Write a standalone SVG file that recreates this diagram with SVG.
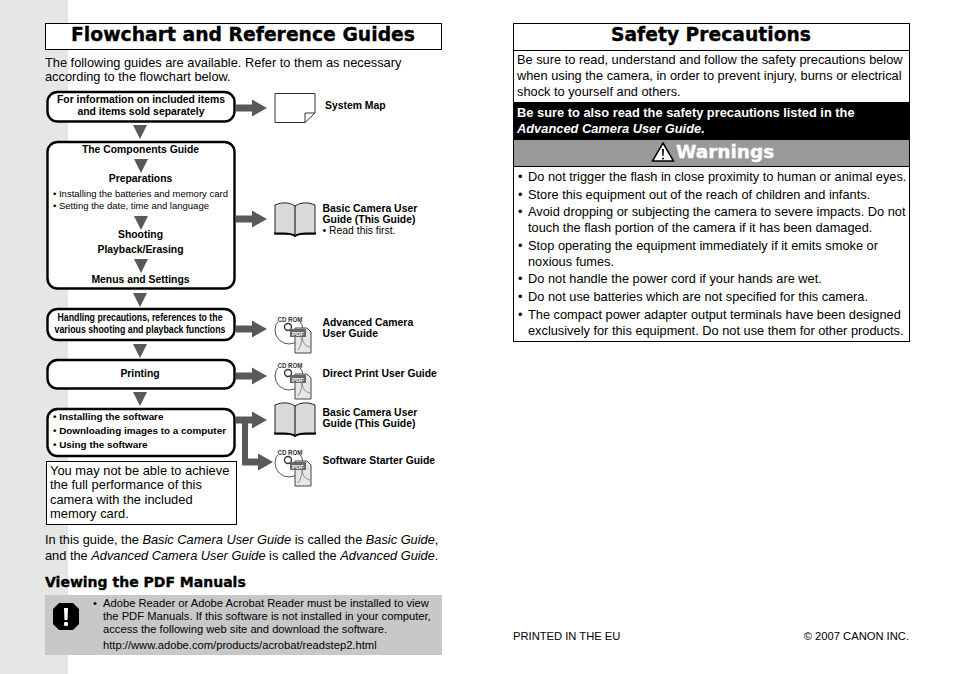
<svg xmlns="http://www.w3.org/2000/svg" width="954" height="674" viewBox="0 0 954 674">
<style>
text{font-family:"Liberation Sans",Arial,sans-serif;fill:#000}
.title{font-family:"DejaVu Sans",sans-serif;font-weight:700;font-size:20px;stroke:#000;stroke-width:.35}
.b{font-size:12.800px}
.f{font-weight:700;font-size:10.400px}
.g{font-size:9.500px}
.ctr{text-anchor:middle}
.box{fill:#fff;stroke:#000;stroke-width:2.4}
.frame{fill:#fff;stroke:#000;stroke-width:1}
.fl{fill:#595959}
.w{font-size:12.800px}
.sw{font-weight:700;font-size:9.900px}
.n{font-size:11.200px}
</style>
<defs>
<path id="tri" class="fl" d="M-7 0H7L0 14Z"/>
<path id="arr" class="fl" d="M0 -3.500H16V-8.500L31 0L16 8.500V3.500H0Z"/>
<g id="book">
<path d="M1 3C8 0 15 0 21 4C27 0 34 0 41 3V32H29C26 32 23 33 21 34C19 33 16 32 13 32H1Z" fill="#d9d9d9" stroke="#222" stroke-width="1"/>
<path d="M21 4V33" stroke="#000" stroke-width="1"/>
<path d="M0 31.500H10C15 31.500 19 32.500 21 34C23 32.500 27 31.500 32 31.500H42" fill="none" stroke="#000" stroke-width="1.800"/>
</g>
<g id="cd">
<circle cx="14" cy="18" r="14" fill="#fff" stroke="#555" stroke-width="1"/>
<circle cx="13" cy="15" r="3.500" fill="#fff" stroke="#333" stroke-width="1.400"/>
<rect x="2" y="3" width="26" height="7" fill="#fff"/>
<text x="15" y="9.500" class="ctr" style="font-size:7px;fill:#333;font-weight:700" textLength="25" lengthAdjust="spacingAndGlyphs">CD ROM</text>
<path d="M20 16H32L36 20V41H20Z" fill="#e6e6e6" stroke="#444" stroke-width="1"/>
<path d="M23 38C26 34 27 29 27 25C28 31 30 34 35 35" fill="none" stroke="#777" stroke-width="0.800"/>
<rect x="15" y="17" width="16" height="8" fill="#666"/>
<text x="23" y="23.500" class="ctr" style="font-size:6px;font-weight:700;fill:#fff">PDF</text>
</g>
</defs>
<rect id="side-band" x="0" y="0" width="68" height="674" fill="#e6e6e6"/>

<g id="flow-title"><rect class="frame" x="45.500" y="23.500" width="396" height="26"/><text class="title" x="71" y="41" textLength="344" lengthAdjust="spacingAndGlyphs">Flowchart and Reference Guides</text></g>
<g id="intro"><text class="b" x="45" y="67">The following guides are available. Refer to them as necessary</text><text class="b" x="45" y="81">according to the flowchart below.</text></g>

<g id="connectors">
<use href="#tri" x="140" y="125"/>
<use href="#tri" x="140" y="293"/>
<use href="#tri" x="140" y="344"/>
<use href="#tri" x="140" y="392"/>
<use href="#arr" x="236" y="108"/>
<use href="#arr" x="236" y="219"/>
<use href="#arr" x="236" y="329"/>
<use href="#arr" x="236" y="376"/>
<use href="#arr" x="236" y="420"/>
<path class="fl" d="M242 423H248V459H242Z"/>
<use href="#arr" x="236" y="462" transform="translate(6 0)"/>
</g>

<g id="node-info"><rect class="box" x="47.500" y="92" width="187" height="29.500" rx="10"/><text class="f ctr" x="141" y="103">For information on included items</text><text class="f ctr" x="141" y="115">and items sold separately</text></g>
<g id="node-components"><rect class="box" x="47.500" y="142" width="187" height="146.500" rx="10"/>
<text class="f ctr" x="140.500" y="153">The Components Guide</text>
<use href="#tri" x="141" y="159"/>
<text class="f ctr" x="140.500" y="182">Preparations</text>
<text class="g" x="53" y="197">• Installing the batteries and memory card</text>
<text class="g" x="53" y="209">• Setting the date, time and language</text>
<use href="#tri" x="141" y="216"/>
<text class="f ctr" x="140.500" y="238">Shooting</text>
<text class="f ctr" x="140.500" y="253">Playback/Erasing</text>
<use href="#tri" x="141" y="259"/>
<text class="f ctr" x="140.500" y="283">Menus and Settings</text></g>
<g id="node-handling"><rect class="box" x="47.500" y="309" width="187" height="31" rx="10"/><text class="f ctr" x="140" y="321" textLength="165" lengthAdjust="spacingAndGlyphs">Handling precautions, references to the</text><text class="f ctr" x="140" y="333" textLength="171" lengthAdjust="spacingAndGlyphs">various shooting and playback functions</text></g>
<g id="node-printing"><rect class="box" x="47.500" y="360" width="187" height="28.500" rx="10"/><text class="f ctr" x="140" y="377">Printing</text></g>
<g id="node-software"><rect class="box" x="47.500" y="409" width="187" height="47" rx="10"/><text class="sw" x="53" y="420">• Installing the software</text><text class="sw" x="53" y="434">• Downloading images to a computer</text><text class="sw" x="53" y="448">• Using the software</text></g>
<g id="note-card"><rect class="frame" x="46.500" y="461.500" width="190" height="63"/><text class="b" x="50" y="475" style="font-size:12.900px">You may not be able to achieve</text><text class="b" x="50" y="489" style="font-size:12.900px">the full performance of this</text><text class="b" x="50" y="504" style="font-size:12.900px">camera with the included</text><text class="b" x="50" y="518" style="font-size:12.900px">memory card.</text></g>

<g id="system-map"><path d="M305 122.500H275V93.500H315V113L305 122.500V113H315" fill="#fff" stroke="#333" stroke-width="1"/><text class="f" x="325" y="109">System Map</text></g>
<g id="guide-basic-1"><use href="#book" x="274" y="202"/><text class="f" x="322.500" y="212">Basic Camera User</text><text class="f" x="322.500" y="223">Guide (This Guide)</text><text class="f" x="322.500" y="234" style="font-weight:400">• Read this first.</text></g>
<g id="guide-advanced"><use href="#cd" x="275" y="312"/><text class="f" x="322.500" y="326">Advanced Camera</text><text class="f" x="322.500" y="337">User Guide</text></g>
<g id="guide-print"><use href="#cd" x="275" y="358"/><text class="f" x="322.500" y="377">Direct Print User Guide</text></g>
<g id="guide-basic-2"><use href="#book" x="274" y="402"/><text class="f" x="322.500" y="416">Basic Camera User</text><text class="f" x="322.500" y="427">Guide (This Guide)</text></g>
<g id="guide-starter"><use href="#cd" x="275" y="445"/><text class="f" x="322.500" y="464">Software Starter Guide</text></g>

<g id="naming"><text class="b" x="45" y="544">In this guide, the <tspan font-style="italic">Basic Camera User Guide</tspan> is called the <tspan font-style="italic">Basic Guide</tspan>,</text><text class="b" x="45" y="560">and the <tspan font-style="italic">Advanced Camera User Guide</tspan> is called the <tspan font-style="italic">Advanced Guide</tspan>.</text></g>
<text id="pdf-heading" class="title" x="45" y="587" style="font-size:14px">Viewing the PDF Manuals</text>
<g id="pdf-note"><rect x="45" y="595" width="397" height="60" fill="#c8c8c8"/>
<path d="M59 603H73L79 609V624L73 630H59L53 624V609Z" fill="#000"/><path d="M64 608H68L67.500 620H64.500Z" fill="#fff"/><circle cx="66" cy="624" r="2.200" fill="#fff"/>
<text class="n" x="93" y="607">•</text><text class="n" x="103" y="607">Adobe Reader or Adobe Acrobat Reader must be installed to view</text><text class="n" x="103" y="620">the PDF Manuals. If this software is not installed in your computer,</text><text class="n" x="103" y="633">access the following web site and download the software.</text><text class="n" x="103" y="649">http://www.adobe.com/products/acrobat/readstep2.html</text></g>

<g id="safety"><rect class="frame" x="513.500" y="23.500" width="396" height="318"/>
<path d="M513 50.500H910" stroke="#000"/>
<text class="title ctr" x="711" y="41" textLength="200" lengthAdjust="spacingAndGlyphs">Safety Precautions</text>
<text class="b" x="517" y="64">Be sure to read, understand and follow the safety precautions below</text>
<text class="b" x="517" y="80">when using the camera, in order to prevent injury, burns or electrical</text>
<text class="b" x="517" y="96">shock to yourself and others.</text>
<rect x="513" y="102" width="397" height="38" fill="#000"/>
<text x="517" y="117" style="font-size:12.850px;font-weight:700;fill:#fff">Be sure to also read the safety precautions listed in the</text>
<text x="517" y="133" style="font-size:12.850px;font-weight:700;font-style:italic;fill:#fff">Advanced Camera User Guide.</text>
<rect x="514" y="140" width="395" height="26" fill="#999"/>
<path d="M663 143L673.500 161H652.500Z" fill="#fff" stroke="#000" stroke-width="1.500"/><path d="M662 149H664L663.600 156H662.400Z" fill="#000"/><circle cx="663" cy="158.500" r="1" fill="#000"/>
<text class="title" x="676" y="158" style="font-size:18.500px;fill:#fff;stroke:#fff">Warnings</text>
<path d="M513 166.500H910" stroke="#000"/>
<text class="w" x="518" y="181">•</text><text class="w" x="528" y="181">Do not trigger the flash in close proximity to human or animal eyes.</text>
<text class="w" x="518" y="199">•</text><text class="w" x="528" y="199">Store this equipment out of the reach of children and infants.</text>
<text class="w" x="518" y="216">•</text><text class="w" x="528" y="216">Avoid dropping or subjecting the camera to severe impacts. Do not</text>
<text class="w" x="528" y="232">touch the flash portion of the camera if it has been damaged.</text>
<text class="w" x="518" y="250">•</text><text class="w" x="528" y="250">Stop operating the equipment immediately if it emits smoke or</text>
<text class="w" x="528" y="266">noxious fumes.</text>
<text class="w" x="518" y="283">•</text><text class="w" x="528" y="283">Do not handle the power cord if your hands are wet.</text>
<text class="w" x="518" y="301">•</text><text class="w" x="528" y="301">Do not use batteries which are not specified for this camera.</text>
<text class="w" x="518" y="319">•</text><text class="w" x="528" y="319">The compact power adapter output terminals have been designed</text>
<text class="w" x="528" y="335">exclusively for this equipment. Do not use them for other products.</text>
</g>
<g id="footer"><text class="n" x="513" y="640">PRINTED IN THE EU</text><text class="n" x="909" y="640" text-anchor="end">© 2007 CANON INC.</text></g>
</svg>
